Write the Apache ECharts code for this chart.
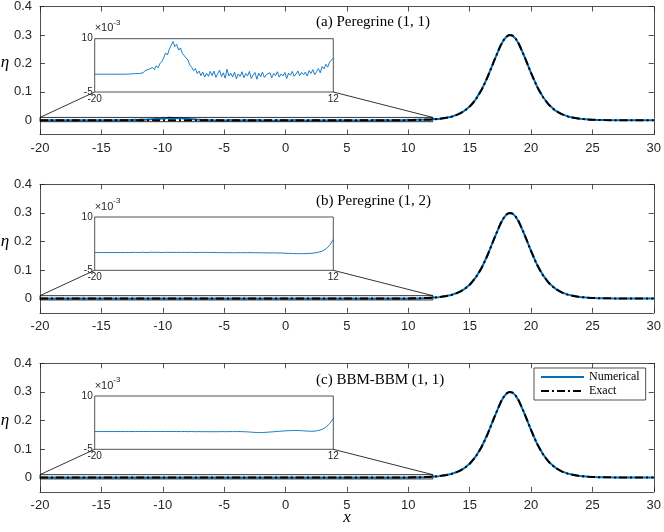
<!DOCTYPE html>
<html lang="en">
<head>
<meta charset="UTF-8">
<title>Solitary wave</title>
<script src="https://cdn.jsdelivr.net/npm/echarts@6/dist/echarts.min.js"></script>
</head>
<body style="margin:0;background:#fff">
<div id="main" style="width:664px;height:532px;"></div>
<script>
// main view: exact solitary wave
const xMain = [-20, -10, 0, 5, 8, 9, 10, 10.5, 11, 11.5, 12, 12.5, 13, 13.5, 14, 14.5, 15, 15.5,
  16, 16.5, 17, 17.5, 17.75, 18, 18.25, 18.5, 18.75, 19, 19.5, 20, 20.5, 21, 21.5, 22, 22.5,
  23, 23.5, 24, 24.5, 25, 25.5, 26, 27, 28, 29, 30];
const exactEta = [0, 0, 0, 0.00001, 0.00007, 0.00018, 0.00046, 0.00074, 0.00118, 0.0019, 0.00304,
  0.00487, 0.0078, 0.0124, 0.0197, 0.031, 0.0482, 0.0737, 0.1095, 0.156, 0.2097, 0.2607, 0.2805,
  0.294, 0.2998, 0.2973, 0.2868, 0.2692, 0.2206, 0.1665, 0.118, 0.0801, 0.0525, 0.0339, 0.0216,
  0.0136, 0.00855, 0.00535, 0.00335, 0.00209, 0.0013, 0.00081, 0.00031, 0.00012, 0.00005, 0.00002];

// inset values (x 1e-3), numerical solution on [-20, 12]
const insetStart = -20;
const stepA = 0.25;
const insetA = [0, 0, 0, 0, 0, 0, 0, 0, 0, 0, 0, 0, 0, 0, 0, 0, 0, 0, 0.05, 0.05, 0.1, 0.1,
  0.2, 0.3, 0.2, 0.6, 0.4, 1.0, 0.7, 1.4, 1.1, 1.9, 1.3,
  2.4, 1.8, 3.0, 3.6, 4.6, 6.0, 5.4, 7.0, 6.6, 9.2,
  7.8, 8.4, 6.8, 7.4, 5.9, 6.2, 4.6, 4.0, 2.6, 2.0,
  1.0, 1.6, 0.2, 0.9, -0.4, 0.6, -0.8, 0.3, -0.6, 0.8,
  -0.4, 0.9, -0.9, 0.2, 1.1, -0.7, 0.4, -1.1, 1.4, -0.5,
  0.3, -0.8, 0.6, -1.3, 0.1, -0.6, 0.7, -1.0, 0.2, -0.5,
  0.8, -1.2, -0.2, 0.5, -1.4, 0.3, -0.7, 0.6, -0.9, -0.1,
  -0.6, 0.4, -1.0, 0.2, -0.4, 0.7, -0.8, 0.1, -0.5, 0.5,
  -1.2, 0.3, -0.3, 0.8, -0.6, 0.1, 0.9, -0.4, 0.5, -0.2,
  0.6, -0.5, 1.0, 0.2, 1.3, -0.1, 0.7, 1.6, 0.4, 2.2,
  1.5, 2.8, 2.0, 3.4, 3.0, 4.6];
const stepBC = 0.5;
const insetB = [0, 0, 0, 0, 0, 0, 0, 0, 0, 0,
  0.02, 0.05, 0, 0.08, -0.03, 0.1, 0.02, 0.08, -0.02, 0.06,
  0.03, 0.07, 0.01, 0.05, 0.04, 0.02, 0.06, -0.01, 0.03, 0.05,
  0.02, -0.02, 0.04, -0.05, 0, -0.06, -0.02, -0.08, -0.03, -0.05,
  -0.02, -0.06, -0.01, -0.08, -0.04, -0.1, -0.07, -0.12, -0.08, -0.15,
  -0.12, -0.2, -0.22, -0.28, -0.3, -0.32, -0.3, -0.28, -0.22, -0.12,
  0.1, 0.4, 1.0, 2.0, 3.7];
const insetC = [0, 0, 0, 0, 0, 0, 0, 0, 0, 0,
  0, 0, 0.01, 0, 0.01, 0, 0.02, 0, 0.01, 0,
  0.02, 0, 0.03, -0.02, 0.01, -0.03, 0, -0.04, -0.02, -0.05,
  -0.03, -0.06, -0.04, -0.05, -0.02, -0.04, -0.01, -0.03, 0, -0.02,
  -0.05, -0.1, -0.18, -0.25, -0.3, -0.28, -0.22, -0.14, -0.06, 0.02,
  0.1, 0.18, 0.24, 0.28, 0.3, 0.26, 0.2, 0.12, 0.08, 0.1,
  0.3, 0.6, 1.2, 2.2, 3.7];

const titles = ['(a) Peregrine (1, 1)', '(b) Peregrine (1, 2)', '(c) BBM-BBM (1, 1)'];
const yTicks = [0, 0.1, 0.2, 0.3, 0.4];
const insetXTicks = [-20, 12];
const insetYTicks = [-5, 10];

const insets = [[insetA, stepA], [insetB, stepBC], [insetC, stepBC]];

const axisColor = '#262626';
const blue = '#0072BD';
const panelTop = [6, 184.3, 363.3];
const panelH = 128.5;

const chart = echarts.init(document.getElementById('main'));

const grids = [], xAxes = [], yAxes = [], series = [], graphics = [];
const frameLine = { show: true, onZero: false, lineStyle: { color: axisColor, width: 0.8 } };
const noLine = { show: false, onZero: false };

panelTop.forEach((top, i) => {
  grids.push({ left: 40, width: 616, top: top, height: panelH, show: false });
  grids.push({ left: 94.7, width: 238.6, top: top + 32.7, height: 53.3, show: true,
    borderColor: axisColor, borderWidth: 0.8, backgroundColor: '#fff' });

  const tick = { show: true, inside: true, length: 5, lineStyle: { color: axisColor, width: 0.8 } };
  xAxes.push({ gridIndex: 2 * i, type: 'value', min: -20, max: 30, interval: 5,
    axisLine: frameLine, axisTick: tick, splitLine: { show: false },
    axisLabel: { color: axisColor, fontSize: 13, fontFamily: 'Liberation Sans', margin: 7 } });
  xAxes.push({ gridIndex: 2 * i, type: 'value', position: 'top', min: -20, max: 30, interval: 5,
    axisLine: frameLine, axisTick: tick, splitLine: { show: false }, axisLabel: { show: false } });
  xAxes.push({ gridIndex: 2 * i + 1, type: 'value', min: -20, max: 12,
    axisLine: noLine, axisTick: { show: false }, splitLine: { show: false },
    axisLabel: { customValues: insetXTicks, color: axisColor, fontSize: 10,
      fontFamily: 'Liberation Sans', margin: 2 } });

  const yTick = Object.assign({}, tick, { customValues: yTicks });
  yAxes.push({ gridIndex: 2 * i, type: 'value', min: -0.05, max: 0.4,
    axisLine: frameLine, axisTick: yTick, splitLine: { show: false },
    axisLabel: { customValues: yTicks, color: axisColor, fontSize: 13, fontFamily: 'Liberation Sans',
      margin: 8, formatter: v => (v === 0 ? '0' : v.toFixed(1)) } });
  yAxes.push({ gridIndex: 2 * i, type: 'value', position: 'right', min: -0.05, max: 0.4,
    axisLine: frameLine, axisTick: yTick, splitLine: { show: false }, axisLabel: { show: false } });
  yAxes.push({ gridIndex: 2 * i + 1, type: 'value', min: -5, max: 10,
    axisLine: noLine, axisTick: { show: false }, splitLine: { show: false },
    axisLabel: { customValues: insetYTicks, color: axisColor, fontSize: 10,
      fontFamily: 'Liberation Sans', margin: 2 },
    name: '{a|\u00d710}{b|-3}', nameLocation: 'end', nameGap: 0,
    nameTextStyle: { align: 'left', verticalAlign: 'bottom', padding: [0, 0, 0, 0],
      rich: { a: { fontSize: 11, color: axisColor, fontFamily: 'Liberation Sans', verticalAlign: 'bottom', lineHeight: 15 },
              b: { fontSize: 8, color: axisColor, fontFamily: 'Liberation Sans', verticalAlign: 'top', lineHeight: 15 } } } });

  // numerical data in the main view: inset part (scaled) + wave beyond x = 12
  const [vals, step] = insets[i];
  const insetData = vals.map((v, k) => [insetStart + k * step, v]);
  const numData = insetData.map(p => [p[0], p[1] * 1e-3])
    .concat(xMain.map((x, k) => [x, exactEta[k]]).filter(p => p[0] > 12));
  const exactData = xMain.map((x, k) => [x, exactEta[k]]);

  series.push({ name: 'Numerical', type: 'line', xAxisIndex: 3 * i, yAxisIndex: 3 * i,
    data: numData, symbol: 'none', smooth: false, z: 2,
    lineStyle: { color: blue, width: 2 }, itemStyle: { color: blue } });
  series.push({ name: 'Exact', type: 'line', xAxisIndex: 3 * i, yAxisIndex: 3 * i,
    data: exactData, symbol: 'none', smooth: 0.3, z: 3,
    lineStyle: { color: '#000', width: 2, type: [8, 3, 2, 3] }, itemStyle: { color: '#000' } });
  series.push({ type: 'line', xAxisIndex: 3 * i, yAxisIndex: 3 * i, silent: true, z: 4,
    data: [[-20, -0.005], [12, -0.005], [12, 0.01], [-20, 0.01], [-20, -0.005]],
    symbol: 'none', lineStyle: { color: '#000', width: 0.8 } });
  series.push({ type: 'line', xAxisIndex: 3 * i + 2, yAxisIndex: 3 * i + 2, silent: true,
    data: insetData, symbol: 'none', lineStyle: { color: blue, width: 0.9 } });

  graphics.push({ type: 'text', x: 316, y: top + 16.5,
    style: { text: titles[i], fill: '#000', font: '15px "Liberation Serif"', verticalAlign: 'middle' } });
  graphics.push({ type: 'text', x: 5, y: top + 57,
    style: { text: '\u03b7', fill: '#000', font: 'italic 17px "Liberation Serif"', align: 'center', verticalAlign: 'middle' } });
});

graphics.push({ type: 'text', x: 347, y: 518,
  style: { text: 'x', fill: '#000', font: 'italic 17px "Liberation Serif"', align: 'center', verticalAlign: 'middle' } });

const option = {
  animation: false,
  backgroundColor: '#fff',
  grid: grids,
  xAxis: xAxes,
  yAxis: yAxes,
  series: series,
  legend: {
    data: ['Numerical', 'Exact'], orient: 'vertical', left: 534, top: 368,
    itemWidth: 43, itemHeight: 13, itemGap: 2, padding: [3, 6, 3, 6],
    borderColor: axisColor, borderWidth: 0.8, backgroundColor: '#fff', borderRadius: 0,
    itemStyle: { opacity: 0, borderWidth: 0 },
    textStyle: { fontFamily: 'Liberation Serif', fontSize: 12, color: '#000' }
  },
  graphic: graphics
};
chart.setOption(option);

// connector lines from inset corners to the zoom box
const links = [];
for (let i = 0; i < 3; i++) {
  const a = chart.convertToPixel({ seriesIndex: 4 * i + 3 }, [-20, -5]);
  const b = chart.convertToPixel({ seriesIndex: 4 * i + 3 }, [12, -5]);
  const c = chart.convertToPixel({ seriesIndex: 4 * i }, [-20, 0.01]);
  const d = chart.convertToPixel({ seriesIndex: 4 * i }, [12, 0.01]);
  links.push({ type: 'line', shape: { x1: a[0], y1: a[1], x2: c[0], y2: c[1] }, style: { stroke: '#000', lineWidth: 0.8 } });
  links.push({ type: 'line', shape: { x1: b[0], y1: b[1], x2: d[0], y2: d[1] }, style: { stroke: '#000', lineWidth: 0.8 } });
}
chart.setOption({ graphic: graphics.concat(links) });
</script>
</body>
</html>
